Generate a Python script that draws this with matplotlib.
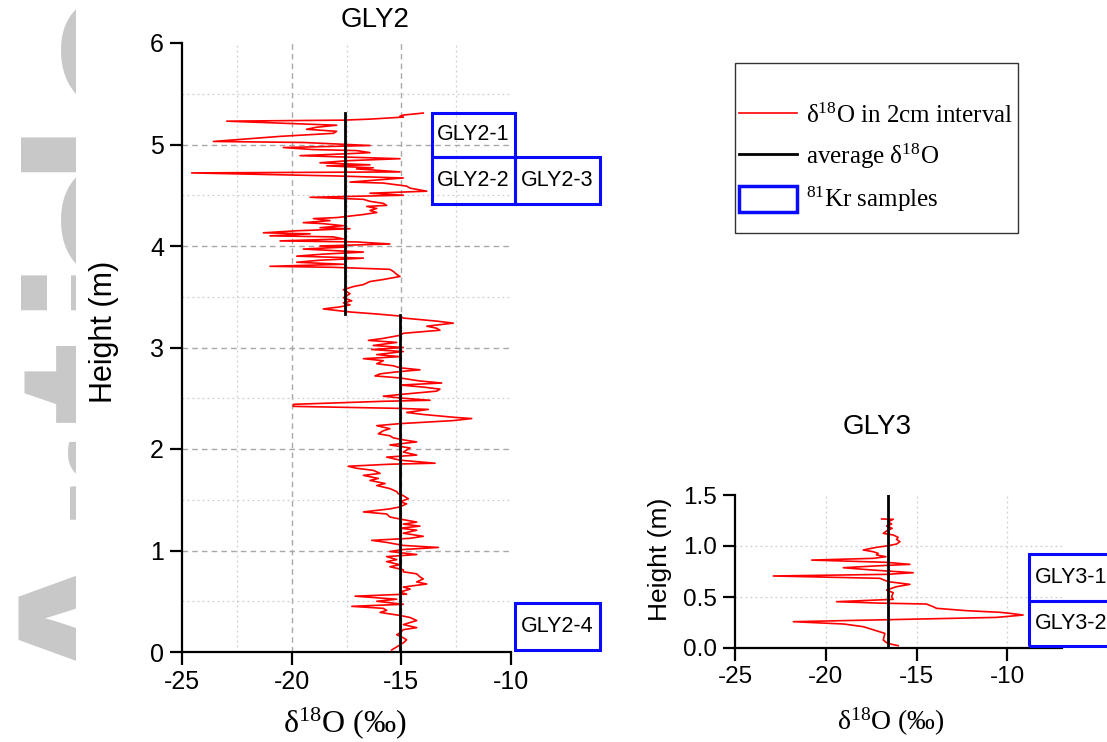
import matplotlib
matplotlib.use("Agg")
import matplotlib.pyplot as plt
from matplotlib.patches import Rectangle, Patch
from matplotlib.lines import Line2D

plt.rcParams['font.family'] = ['Liberation Sans', 'DejaVu Sans']
plt.rcParams['mathtext.default'] = 'regular'
plt.rcParams['axes.unicode_minus'] = False

# ---------------- data ----------------
gly2_height = [5.31, 5.29, 5.28, 5.27, 5.25, 5.24, 5.23, 5.20, 5.19, 5.17, 5.15, 5.13, 5.11, 5.08, 5.06,
               5.03, 5.02, 5.00, 4.99, 4.97, 4.95, 4.94, 4.92, 4.91, 4.89, 4.86, 4.84, 4.82, 4.80, 4.79,
               4.77, 4.76, 4.73, 4.72, 4.69, 4.67, 4.63, 4.62, 4.59, 4.57, 4.54, 4.52, 4.50, 4.48, 4.46,
               4.44, 4.42, 4.40, 4.39, 4.37, 4.35, 4.33, 4.31, 4.28, 4.27, 4.25, 4.23, 4.22, 4.20, 4.18,
               4.17, 4.15, 4.13, 4.12, 4.10, 4.09, 4.07, 4.05, 4.04, 4.02, 4.00, 3.99, 3.97, 3.95, 3.94,
               3.92, 3.90, 3.88, 3.86, 3.84, 3.82, 3.80, 3.79, 3.77, 3.75, 3.72, 3.70, 3.67, 3.65, 3.62,
               3.60, 3.57, 3.53, 3.51, 3.49, 3.46, 3.44, 3.42, 3.40, 3.38, 3.35, 3.33, 3.31, 3.29, 3.26,
               3.24, 3.21, 3.19, 3.17, 3.14, 3.12, 3.09, 3.07, 3.05, 3.02, 3.00, 2.98, 2.96, 2.93, 2.91,
               2.89, 2.87, 2.84, 2.82, 2.80, 2.78, 2.76, 2.74, 2.72, 2.70, 2.67, 2.65, 2.63, 2.61, 2.59,
               2.57, 2.54, 2.52, 2.50, 2.48, 2.47, 2.44, 2.42, 2.40, 2.39, 2.36, 2.34, 2.31, 2.30, 2.28,
               2.25, 2.23, 2.20, 2.18, 2.15, 2.13, 2.11, 2.09, 2.07, 2.04, 2.01, 1.97, 1.94, 1.92, 1.89,
               1.86, 1.85, 1.83, 1.81, 1.79, 1.76, 1.74, 1.71, 1.69, 1.66, 1.64, 1.61, 1.58, 1.56, 1.54,
               1.51, 1.48, 1.46, 1.43, 1.41, 1.38, 1.36, 1.33, 1.31, 1.28, 1.26, 1.24, 1.22, 1.20, 1.17,
               1.14, 1.12, 1.10, 1.08, 1.05, 1.03, 1.01, 0.99, 0.96, 0.94, 0.91, 0.89, 0.86, 0.84, 0.81,
               0.79, 0.77, 0.74, 0.72, 0.69, 0.67, 0.64, 0.62, 0.59, 0.57, 0.55, 0.52, 0.50, 0.47, 0.45,
               0.43, 0.41, 0.39, 0.36, 0.34, 0.31, 0.29, 0.27, 0.24, 0.22, 0.19, 0.17, 0.14, 0.12, 0.09,
               0.07, 0.05, 0.02]
gly2_d18o = [-14.00, -14.91, -15.06, -14.91, -16.43, -17.64, -22.96, -19.16, -17.95, -18.86, -19.32, -17.95,
             -18.10, -20.53, -21.75, -23.57, -19.47, -17.49, -16.43, -20.38, -19.01, -17.04, -16.43, -17.34,
             -19.62, -15.06, -17.49, -18.71, -16.43, -18.40, -16.28, -17.04, -15.06, -24.56, -17.95, -14.91,
             -17.34, -15.82, -14.76, -14.60, -13.84, -16.43, -14.91, -19.16, -16.73, -16.43, -15.82, -15.67,
             -16.58, -16.12, -16.43, -16.12, -16.73, -17.95, -19.01, -18.25, -19.47, -18.56, -17.64, -18.71,
             -17.34, -19.77, -21.29, -19.16, -20.99, -18.10, -17.64, -20.53, -17.04, -15.52, -18.71, -17.49,
             -19.47, -17.64, -16.73, -18.56, -19.77, -16.73, -18.71, -19.77, -17.64, -20.99, -18.10, -15.52,
             -15.37, -15.21, -15.06, -15.82, -16.43, -16.73, -17.19, -17.64, -17.34, -17.49, -17.64, -17.26,
             -17.64, -17.34, -17.80, -18.56, -17.34, -16.12, -15.06, -14.91, -13.39, -12.63, -13.84, -13.39,
             -13.24, -14.91, -15.06, -15.82, -16.50, -15.21, -16.28, -14.91, -16.35, -14.91, -16.12, -15.06,
             -16.73, -15.82, -16.12, -15.37, -15.06, -14.15, -15.21, -15.97, -16.20, -15.06, -14.15, -13.16,
             -15.06, -14.00, -13.24, -13.39, -14.91, -15.82, -14.91, -13.69, -15.82, -19.92, -19.92, -15.06,
             -13.77, -14.76, -14.00, -12.47, -11.79, -12.63, -15.06, -16.12, -15.52, -15.82, -16.05, -15.52,
             -15.37, -14.91, -14.30, -15.52, -14.60, -14.91, -14.30, -15.67, -15.06, -13.46, -15.52, -17.42,
             -17.04, -16.28, -15.97, -16.73, -16.05, -16.43, -15.74, -16.12, -15.52, -15.21, -15.14, -14.91,
             -14.68, -15.06, -14.76, -15.06, -15.52, -16.73, -15.67, -15.52, -15.06, -14.30, -14.91, -14.15,
             -15.06, -14.30, -14.91, -14.00, -14.60, -16.35, -15.67, -14.91, -13.31, -14.91, -15.52, -14.30,
             -15.67, -15.21, -15.67, -15.06, -15.52, -14.91, -14.91, -14.30, -14.15, -14.00, -14.30, -13.84,
             -14.91, -14.60, -15.06, -14.76, -17.11, -15.21, -16.12, -14.91, -17.26, -15.82, -15.67, -15.97,
             -15.06, -14.60, -14.30, -14.60, -14.91, -14.30, -14.91, -15.06, -15.21, -14.91, -14.76, -14.91,
             -15.06, -15.21, -15.44]

gly3_height = [1.265, 1.262, 1.238, 1.215, 1.196, 1.173, 1.147, 1.124, 1.108, 1.085, 1.065, 1.042, 1.019,
               1.000, 0.987, 0.961, 0.944, 0.928, 0.912, 0.895, 0.879, 0.862, 0.840, 0.820, 0.807, 0.787,
               0.764, 0.738, 0.722, 0.706, 0.683, 0.650, 0.624, 0.601, 0.568, 0.542, 0.503, 0.477, 0.454,
               0.440, 0.431, 0.405, 0.389, 0.366, 0.350, 0.340, 0.323, 0.300, 0.291, 0.258, 0.235, 0.209,
               0.143, 0.078, 0.045, 0.023]
gly3_d18o = [-16.93, -16.29, -16.57, -16.38, -16.66, -16.35, -16.66, -16.84, -16.29, -16.02, -16.11, -15.92,
             -16.11, -16.66, -17.21, -17.94, -17.39, -17.12, -17.21, -16.69, -17.39, -20.78, -16.66, -15.37,
             -17.02, -19.04, -17.39, -15.19, -16.66, -22.89, -17.02, -16.57, -15.37, -16.11, -16.66, -16.29,
             -16.38, -16.29, -19.41, -17.02, -14.46, -14.09, -13.91, -12.26, -10.43, -9.87, -9.14, -10.61,
             -13.00, -21.79, -19.00, -17.94, -16.75, -16.84, -16.60, -16.02]

# average d18O segments: (value, bottom height, top height)
gly2_avg = [(-17.55, 3.33, 5.31), (-15.05, 0.0, 3.32)]
gly3_avg = [(-16.6, 0.0, 1.5)]

# 81Kr sample boxes: (label, x-left, x-right, bottom height, top height)
gly2_samples = [("GLY2-1", -13.6, -9.82, 4.88, 5.31),
                ("GLY2-2", -13.6, -9.82, 4.41, 4.88),
                ("GLY2-3", -9.82, -5.94, 4.41, 4.88),
                ("GLY2-4", -9.82, -5.94, 0.02, 0.48)]
gly3_samples = [("GLY3-1", -8.79, -4.23, 0.46, 0.92),
                ("GLY3-2", -8.79, -4.23, 0.02, 0.46)]

x_ticks = [-25, -20, -15, -10]
gly2_yticks = [0, 1, 2, 3, 4, 5, 6]
gly3_yticks = [0.0, 0.5, 1.0, 1.5]
gly3_yticklabels = ["0.0", "0.5", "1.0", "1.5"]

# grid line positions (interior only)
gly2_grid_x_major = [-20, -15]
gly2_grid_x_minor = [-22.5, -17.5, -12.5]
gly2_grid_y_major = [1, 2, 3, 4, 5]
gly2_grid_y_minor = [0.5, 1.5, 2.5, 3.5, 4.5, 5.5]
gly3_grid_x = [-20, -15, -10]
gly3_grid_y = [0.5, 1.0]

# ---------------- figure ----------------
W, H = 1107, 742
fig = plt.figure(figsize=(W / 100, H / 100), dpi=100)

def fx(px):
    return px / W

def fy(py):
    return 1 - py / H

# watermark (clipped large grey letters on the left)
wm = fig.add_axes([0, 0, 76 / W, 1])
wm.set_axis_off()
wm.set_xlim(0, 76)
wm.set_ylim(H, 0)
for ch, yc in [('A', 611), ('r', 470), ('t', 380), ('i', 275), ('c', 213), ('l', 137), ('e', 42)]:
    wm.text(189, yc, ch, rotation=90, rotation_mode='anchor', ha='center', va='baseline',
            fontsize=183, fontfamily='Liberation Sans', fontweight='bold', color='#c8c8c8',
            clip_on=True)

serif = 'Liberation Serif'
blue = '#0a0aff'
tick_fs = 18
box_fs = 15.5
dash_major = dict(linestyle=(0, (4, 3)), color='#a8a8a8', linewidth=1.0, zorder=0)
dot_minor = dict(linestyle=(0, (1.5, 2.5)), color='#cfcfcf', linewidth=0.9, zorder=0)

def style_axes(ax, fs):
    for s in ['top', 'right']:
        ax.spines[s].set_visible(False)
    for s in ['left', 'bottom']:
        ax.spines[s].set_linewidth(1.6)
    ax.tick_params(which='major', direction='out', length=9, width=1.6, labelsize=fs, pad=4)
    ax.set_axisbelow(True)

# ---- GLY2 ----
ax1 = fig.add_axes([fx(182), fy(652), fx(329), 609 / H])
style_axes(ax1, tick_fs)
ax1.set_xlim(-25, -10)
ax1.set_ylim(0, 6)
ax1.set_xticks(x_ticks)
ax1.set_yticks(gly2_yticks)
for gx in gly2_grid_x_major:
    ax1.axvline(gx, **dash_major)
for gx in gly2_grid_x_minor:
    ax1.axvline(gx, **dot_minor)
for gy in gly2_grid_y_major:
    ax1.axhline(gy, **dash_major)
for gy in gly2_grid_y_minor:
    ax1.axhline(gy, **dot_minor)
ax1.plot(gly2_d18o, gly2_height, color='red', linewidth=1.2, zorder=3)
for v, h0, h1 in gly2_avg:
    ax1.plot([v, v], [h0, h1], color='black', linewidth=2.0, zorder=4)
for lab, x0, x1, h0, h1 in gly2_samples:
    ax1.add_patch(Rectangle((x0, h0), x1 - x0, h1 - h0, fill=False, edgecolor=blue,
                            linewidth=2.2, clip_on=False, zorder=5))
    ax1.text((x0 + x1) / 2, (h0 + h1) / 2, lab, ha='center', va='center', fontsize=box_fs,
             clip_on=False, zorder=6)
ax1.text((375 - 182) / 329, 1 + (43 - 20) / 609, "GLY2", transform=ax1.transAxes,
         ha='center', va='center', fontsize=20)
fig.text(fx(104), fy(332), "Height (m)", rotation=90, ha='center', va='center', fontsize=22)
fig.text(fx(345), fy(723), "δ$^{18}$O (‰)", ha='center', va='center', fontsize=23,
         fontfamily=serif)

# ---- GLY3 ----
ax2 = fig.add_axes([fx(735), fy(648), fx(327), 153 / H])
style_axes(ax2, 17.5)
ax2.set_xlim(-25, -7)
ax2.set_ylim(0, 1.5)
ax2.set_xticks(x_ticks)
ax2.set_yticks(gly3_yticks)
ax2.set_yticklabels(gly3_yticklabels)
for gx in gly3_grid_x:
    ax2.axvline(gx, **dot_minor)
for gy in gly3_grid_y:
    ax2.axhline(gy, **dot_minor)
ax2.plot(gly3_d18o, gly3_height, color='red', linewidth=1.2, zorder=3)
for v, h0, h1 in gly3_avg:
    ax2.plot([v, v], [h0, h1], color='black', linewidth=2.0, zorder=4)
for lab, x0, x1, h0, h1 in gly3_samples:
    ax2.add_patch(Rectangle((x0, h0), x1 - x0, h1 - h0, fill=False, edgecolor=blue,
                            linewidth=2.2, clip_on=False, zorder=5))
    ax2.text((x0 + x1) / 2, (h0 + h1) / 2, lab, ha='center', va='center', fontsize=box_fs,
             clip_on=False, zorder=6)
fig.text(fx(877), fy(427), "GLY3", ha='center', va='center', fontsize=20)
fig.text(fx(660), fy(559), "Height (m)", rotation=90, ha='center', va='center', fontsize=19)
fig.text(fx(891), fy(722), "δ$^{18}$O (‰)", ha='center', va='center', fontsize=20,
         fontfamily=serif)

# ---- legend ----
fig.add_artist(Rectangle((fx(735), fy(233)), fx(1018 - 735), (233 - 63) / H,
                         transform=fig.transFigure, fill=False, edgecolor='#333333', linewidth=1.0))
handles = [Line2D([], [], color='red', linewidth=1.2),
           Line2D([], [], color='black', linewidth=2.0),
           Patch(facecolor='white', edgecolor=blue, linewidth=2.5)]
labels = ["δ$^{18}$O in 2cm interval", "average δ$^{18}$O", "$^{81}$Kr samples"]
fig.legend(handles, labels, loc='upper left', bbox_to_anchor=(fx(739), fy(102)),
           frameon=False, prop={'family': serif, 'size': 18}, handlelength=2.3,
           handletextpad=0.36, handleheight=1.2, labelspacing=0.55, borderpad=0,
           borderaxespad=0)

fig.savefig("out.png", dpi=100)
